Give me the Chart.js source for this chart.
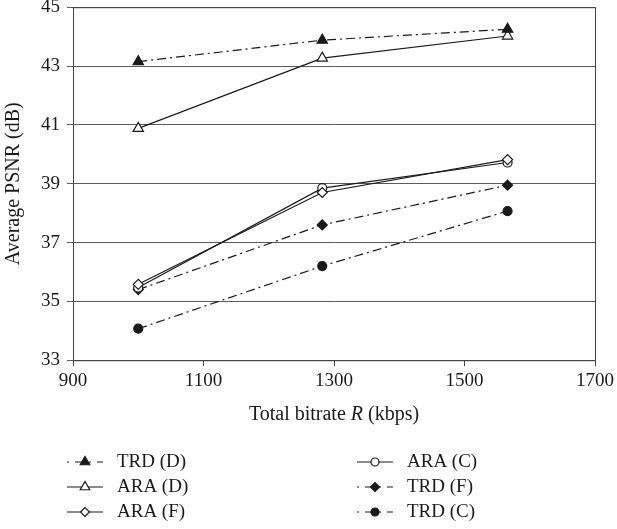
<!DOCTYPE html>
<html>
<head>
<meta charset="utf-8">
<script src="https://cdn.jsdelivr.net/npm/chart.js@4.4.0/dist/chart.umd.min.js"></script>
<style>
  html, body { margin: 0; padding: 0; background: #fff; }
  #wrap { width: 617px; height: 529px; position: relative; }
</style>
</head>
<body>
<div id="wrap"><canvas id="psnr"></canvas></div>
<script>
// bitrate (kbps) of the three operating points
const bitrate = [1000, 1282, 1566];

// average PSNR (dB) per scheme
const trdD = [43.15, 43.88, 44.25];
const araD = [40.88, 43.27, 44.02];
const araF = [35.58, 38.70, 39.82];
const araC = [35.47, 38.85, 39.72];
const trdF = [35.40, 37.60, 38.95];
const trdC = [34.07, 36.20, 38.07];

const yTicks = [33, 35, 37, 39, 41, 43, 45];
const xTicks = [900, 1100, 1300, 1500, 1700];

const serif = '"Liberation Serif", "Times New Roman", serif';
const ink = '#1a1a1a';
const dashDot = [9, 4, 2, 4];
const fontSize = 19;

function pts(vals) {
  return vals.map((v, i) => ({ x: bitrate[i], y: v }));
}

function series(label, vals, style, filled, dashed, radius) {
  return {
    label: label,
    data: pts(vals),
    borderColor: ink,
    borderWidth: 1.2,
    borderDash: dashed ? dashDot : [],
    pointStyle: style,
    pointRadius: radius,
    pointBorderWidth: 1.2,
    pointBorderColor: ink,
    pointBackgroundColor: filled ? ink : '#fff',
    fill: false,
    tension: 0
  };
}

const datasets = [
  series('TRD (D)', trdD, 'triangle', true, true, 6),
  series('ARA (D)', araD, 'triangle', false, false, 6),
  series('ARA (F)', araF, 'rectRot', false, false, 5),
  series('ARA (C)', araC, 'circle', false, false, 4.5),
  series('TRD (F)', trdF, 'rectRot', true, true, 5),
  series('TRD (C)', trdC, 'circle', true, true, 4.5)
];

// frame, x title with italic R, and a legend with line + marker samples
const extras = {
  id: 'extras',
  afterDraw(chart) {
    const ctx = chart.ctx;
    const a = chart.chartArea;
    ctx.save();
    ctx.strokeStyle = '#444';
    ctx.lineWidth = 1;
    ctx.strokeRect(a.left + 0.5, a.top + 0.5, a.right - a.left, a.bottom - a.top);

    // x axis title
    ctx.fillStyle = ink;
    ctx.textBaseline = 'middle';
    const parts = [['Total bitrate ', 'normal'], ['R', 'italic'], [' (kbps)', 'normal']];
    let total = 0;
    parts.forEach(p => { ctx.font = p[1] + ' 20px ' + serif; total += ctx.measureText(p[0]).width; });
    let tx = (a.left + a.right) / 2 - total / 2;
    const ty = 415;
    parts.forEach(p => {
      ctx.font = p[1] + ' 20px ' + serif;
      ctx.textAlign = 'left';
      ctx.fillText(p[0], tx, ty);
      tx += ctx.measureText(p[0]).width;
    });

    // legend
    const cols = [67, 357];
    const rows = [462, 487, 512];
    chart.data.datasets.forEach((ds, i) => {
      const x0 = cols[Math.floor(i / 3)];
      const y = rows[i % 3];
      ctx.strokeStyle = ink;
      ctx.lineWidth = 1.2;
      ctx.setLineDash(ds.borderDash.length ? [2, 6, 9, 5] : []);
      ctx.beginPath();
      ctx.moveTo(x0, y);
      ctx.lineTo(x0 + 36, y);
      ctx.stroke();
      ctx.setLineDash([]);
      ctx.fillStyle = ds.pointBackgroundColor;
      Chart.helpers.drawPoint(ctx, {
        pointStyle: ds.pointStyle,
        radius: ds.pointRadius - 0.5,
        borderWidth: 1.2
      }, x0 + 18, y);
      ctx.fillStyle = ink;
      ctx.font = fontSize + 'px ' + serif;
      ctx.textAlign = 'left';
      ctx.fillText(ds.label, x0 + 50, y);
    });
    ctx.restore();
  }
};

new Chart(document.getElementById('psnr').getContext('2d'), {
  type: 'line',
  data: { datasets: datasets },
  plugins: [extras],
  options: {
    responsive: true,
    maintainAspectRatio: false,
    animation: false,
    layout: { padding: { left: 0, right: 2, top: 7, bottom: 134 } },
    plugins: { legend: { display: false }, tooltip: { enabled: false } },
    scales: {
      x: {
        type: 'linear',
        min: 900,
        max: 1700,
        afterBuildTicks: s => { s.ticks = xTicks.map(v => ({ value: v })); },
        grid: { drawOnChartArea: false, drawTicks: true, tickLength: 6, color: '#444' },
        border: { color: '#444' },
        ticks: {
          color: ink,
          font: { family: serif, size: fontSize },
          padding: 3,
          maxRotation: 0,
          callback: v => String(v)
        }
      },
      y: {
        min: 33,
        max: 45,
        afterBuildTicks: s => { s.ticks = yTicks.map(v => ({ value: v })); },
        afterFit: s => { s.paddingTop = 0; s.paddingBottom = 0; },
        grid: { color: '#5a5a5a', lineWidth: 1, tickLength: 6 },
        border: { color: '#444' },
        ticks: {
          color: ink,
          font: { family: serif, size: fontSize },
          padding: 7,
          callback: v => String(v)
        },
        title: {
          display: true,
          text: 'Average PSNR (dB)',
          color: ink,
          font: { family: serif, size: 20 },
          padding: { top: 2, bottom: 8 }
        }
      }
    }
  }
});
</script>
</body>
</html>
